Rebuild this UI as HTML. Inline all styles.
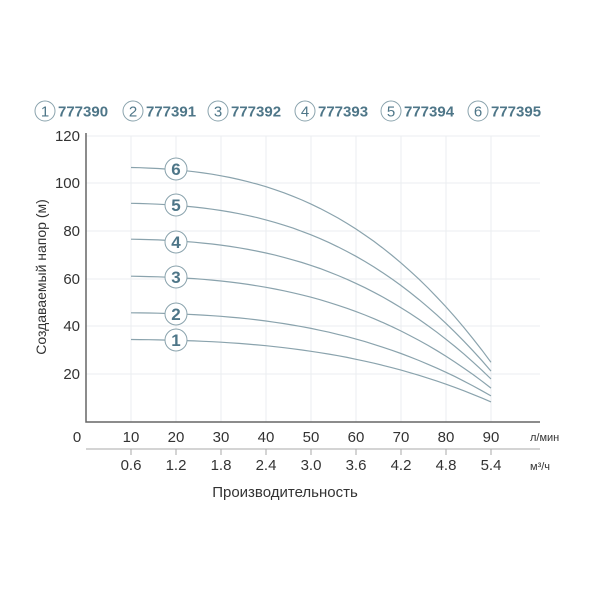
<!DOCTYPE html>
<html><head><meta charset="utf-8"><style>
html,body{margin:0;padding:0;background:#fff;}
svg{display:block;font-family:"Liberation Sans","DejaVu Sans",sans-serif;}
</style></head><body>
<svg id="s" width="600" height="600" viewBox="0 0 600 600" xmlns="http://www.w3.org/2000/svg">
<g stroke="#ebeef0" stroke-width="1">
<line x1="86" y1="374" x2="540" y2="374"/><line x1="86" y1="326" x2="540" y2="326"/>
<line x1="86" y1="279" x2="540" y2="279"/><line x1="86" y1="231" x2="540" y2="231"/>
<line x1="86" y1="183" x2="540" y2="183"/><line x1="86" y1="136" x2="540" y2="136"/>
<line x1="131" y1="136" x2="131" y2="422"/><line x1="176" y1="136" x2="176" y2="422"/>
<line x1="221" y1="136" x2="221" y2="422"/><line x1="266" y1="136" x2="266" y2="422"/>
<line x1="311" y1="136" x2="311" y2="422"/><line x1="356" y1="136" x2="356" y2="422"/>
<line x1="401" y1="136" x2="401" y2="422"/><line x1="446" y1="136" x2="446" y2="422"/>
<line x1="491" y1="136" x2="491" y2="422"/>
</g>
<path d="M86 133 V422 H540" fill="none" stroke="#666" stroke-width="1.5"/>
<line x1="86" y1="449" x2="540" y2="449" stroke="#aaa" stroke-width="1"/>
<g stroke="#aaa"><line x1="131" y1="449" x2="131" y2="455"/><line x1="176" y1="449" x2="176" y2="455"/><line x1="221" y1="449" x2="221" y2="455"/><line x1="266" y1="449" x2="266" y2="455"/><line x1="311" y1="449" x2="311" y2="455"/><line x1="356" y1="449" x2="356" y2="455"/><line x1="401" y1="449" x2="401" y2="455"/><line x1="446" y1="449" x2="446" y2="455"/><line x1="491" y1="449" x2="491" y2="455"/></g>
<g font-size="15" fill="#333" text-anchor="end">
<text x="80" y="141">120</text><text x="80" y="188">100</text><text x="80" y="236">80</text>
<text x="80" y="284">60</text><text x="80" y="331">40</text><text x="80" y="379">20</text>
</g>
<g font-size="15" fill="#333" text-anchor="middle">
<text x="77" y="442">0</text><text x="131" y="442">10</text><text x="176" y="442">20</text><text x="221" y="442">30</text><text x="266" y="442">40</text><text x="311" y="442">50</text><text x="356" y="442">60</text><text x="401" y="442">70</text><text x="446" y="442">80</text><text x="491" y="442">90</text>
<text x="131" y="470">0.6</text><text x="176" y="470">1.2</text><text x="221" y="470">1.8</text><text x="266" y="470">2.4</text><text x="311" y="470">3.0</text><text x="356" y="470">3.6</text><text x="401" y="470">4.2</text><text x="446" y="470">4.8</text><text x="491" y="470">5.4</text>
<text x="285" y="497">Производительность</text>
</g>
<text x="530" y="441" font-size="11" fill="#333">л/мин</text>
<text x="530" y="470" font-size="11" fill="#333">м³/ч</text>
<text transform="translate(46,277) rotate(-90)" font-size="14" fill="#333" text-anchor="middle">Создаваемый напор (м)</text>
<g id="curves" fill="none" stroke="#8aa3ad" stroke-width="1.2"></g>
<g id="labels"></g>
<g id="legend"></g>
</svg>
<script>
var ns="http://www.w3.org/2000/svg";
var s0=[34.5,45.7,61,76.5,91.5,106.5], e=[8.4,10.9,14.2,18,21.3,25];
var cy=[340,314,277,242,205,169];
function X(q){return 86+4.5*q} function Y(h){return 422-2.39*h}
var g=document.getElementById('curves'),L=document.getElementById('labels'),lg=document.getElementById('legend');
var p=2.83,f10=Math.pow(10/90,p);
for(var i=0;i<6;i++){
 var D=(s0[i]-e[i])/(1-f10),d="";
 for(var q=10;q<=90.01;q+=2){var h=s0[i]-D*(Math.pow(q/90,p)-f10);d+=(q==10?"M":"L")+X(q).toFixed(1)+" "+Y(h).toFixed(1);}
 var pa=document.createElementNS(ns,'path');pa.setAttribute('d',d);g.appendChild(pa);
 L.innerHTML+='<circle cx="176" cy="'+cy[i]+'" r="11" fill="#fff" stroke="#8aa3ad" stroke-width="1"/><text x="176" y="'+(cy[i]+6)+'" font-size="17" font-weight="bold" fill="#4e7688" text-anchor="middle">'+(i+1)+'</text>';
}
var lx=[45,133,218,305,391,478];
for(var i=0;i<6;i++){
 lg.innerHTML+='<circle cx="'+lx[i]+'" cy="111" r="10" fill="#fff" stroke="#8aa3ad" stroke-width="1"/><text x="'+lx[i]+'" y="116.5" font-size="15" fill="#4e7688" text-anchor="middle">'+(i+1)+'</text><text x="'+(lx[i]+13)+'" y="116.5" font-size="15" font-weight="bold" fill="#4e7688">'+(777390+i)+'</text>';
}
</script>
</body></html>
